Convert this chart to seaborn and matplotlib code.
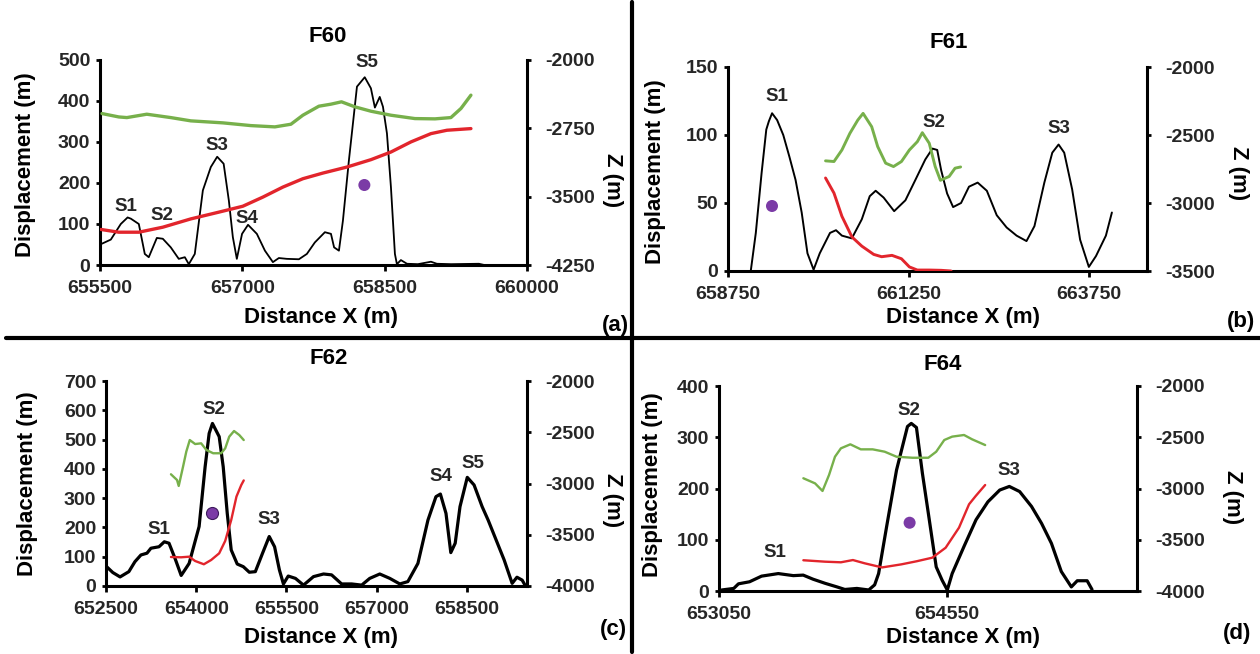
import matplotlib
matplotlib.use("Agg")
import matplotlib.pyplot as plt
from matplotlib.lines import Line2D
import seaborn as sns

# ---------------- F60 (a) ----------------
f60_x = [655500, 655530, 655614, 655719, 655791, 655825, 655909, 655972, 656014, 656099, 656162, 656246,
         656330, 656394, 656436, 656499, 656584, 656668, 656735, 656803, 656858, 656900, 656942,
         656997, 657060, 657153, 657238, 657322, 657385, 657469, 657596, 657680, 657764, 657870,
         657934, 657967, 658018, 658060, 658123, 658208, 658290, 658355, 658397, 658448, 658482,
         658524, 658566, 658608, 658629, 658671, 658735, 658850, 658988, 659050, 659200, 659493, 659550]
f60_disp = [50, 53, 62, 100, 116, 113, 100, 27, 19, 66, 64, 43,
            15, 19, 2, 27, 182, 239, 264, 247, 157, 68, 15,
            76, 98, 76, 35, 7, 17, 15, 14, 27, 55, 80,
            76, 43, 35, 108, 255, 435, 458, 431, 384, 410, 386,
            321, 190, 27, 2, 12, 3, 2, 8, 3, 2, 3, 0]
f60_green_x = [655521, 655698, 655783, 655993, 656246, 656457, 656795, 657090, 657343, 657512, 657638,
               657807, 657933, 658045, 658186, 658355, 658566, 658819, 659030, 659198, 659304, 659409]
f60_green_z = [-2588, -2625, -2632, -2595, -2632, -2668, -2690, -2720, -2734, -2705, -2606,
               -2507, -2485, -2459, -2514, -2562, -2606, -2643, -2646, -2632, -2532, -2386]
f60_red_x = [655510, 655698, 655909, 656162, 656457, 656752, 657005, 657216, 657427, 657638, 657849,
             658102, 658355, 658566, 658777, 658988, 659156, 659409]
f60_red_z = [-3860, -3890, -3890, -3835, -3744, -3670, -3605, -3505, -3395, -3303, -3241,
             -3175, -3094, -3010, -2899, -2808, -2771, -2753]
f60_dot_x, f60_dot_z = [658286], [-3372]
f60_peaks = ["S1", "S2", "S3", "S4", "S5"]
f60_peak_x = [655773, 656157, 656731, 657052, 658314]
f60_peak_y = [142, 120, 291, 114, 494]

# ---------------- F61 (b) ----------------
f61_x = [659065, 659135, 659215, 659280, 659315, 659360, 659430, 659515, 659600, 659685, 659770, 659850,
         659935, 660020, 660162, 660245, 660327, 660464, 660602, 660712, 660794, 660904, 661050,
         661206, 661344, 661481, 661580, 661646, 661701, 661783, 661866, 661976, 662086, 662206,
         662333, 662470, 662607, 662745, 662882, 662992, 663129, 663239, 663326, 663404, 663514,
         663624, 663745, 663844, 663981, 664064]
f61_disp = [0, 28, 72, 104, 110, 116, 111, 100, 84, 67, 43, 13,
            1, 13, 28, 30, 26, 24, 38, 55, 59, 54, 44,
            52, 67, 82, 90, 89, 74, 57, 47, 50, 62, 65,
            59, 41, 32, 26, 22, 33, 65, 87, 93, 87, 60,
            23, 3, 11, 26, 43]
f61_green_x = [660100, 660217, 660327, 660437, 660547, 660620, 660739, 660822, 660932, 661041, 661151,
               661261, 661371, 661440, 661536, 661618, 661690, 661811, 661893, 661970]
f61_green_z = [-2690, -2695, -2610, -2488, -2390, -2341, -2439, -2585, -2707, -2732, -2695,
               -2610, -2549, -2483, -2561, -2732, -2833, -2805, -2744, -2735]
f61_red_x = [660100, 660217, 660327, 660466, 660602, 660767, 660877, 661020, 661151, 661261, 661371,
             661536, 661701, 661838]
f61_red_z = [-2816, -2927, -3098, -3250, -3317, -3378, -3395, -3385, -3410, -3470, -3493,
             -3493, -3495, -3500]
f61_dot_x, f61_dot_z = [659359], [-3022]
f61_peaks = ["S1", "S2", "S3"]
f61_peak_x = [659428, 661597, 663326]
f61_peak_y = [128, 109, 105]

# ---------------- F62 (c) ----------------
f62_x = [652500, 652613, 652734, 652880, 652981, 653081, 653181, 653247, 653381, 653470, 653548,
         653648, 653750, 653882, 654048, 654148, 654215, 654270, 654382, 654449, 654516, 654582,
         654682, 654783, 654883, 654983, 655103, 655214, 655303, 655383, 655450, 655530, 655650,
         655784, 655950, 656117, 656251, 656418, 656585, 656751, 656885, 657052, 657219, 657385,
         657519, 657686, 657853, 657986, 658060, 658153, 658233, 658306, 658386, 658507, 658620,
         658754, 658854, 658987, 659120, 659253, 659333, 659420, 659467]
f62_disp = [68, 46, 31, 49, 83, 106, 112, 129, 134, 151, 146,
            94, 36, 77, 203, 407, 521, 555, 510, 407, 248, 123,
            75, 66, 47, 49, 112, 169, 134, 55, 7, 34, 26,
            3, 32, 41, 38, 7, 7, 3, 26, 41, 26, 7,
            15, 77, 225, 305, 314, 248, 114, 146, 271, 371, 345,
            271, 225, 157, 89, 9, 30, 20, 3]
f62_green_x = [653580, 653681, 653709, 653781, 653835, 653893, 653982, 654082, 654169, 654282, 654415,
               654482, 654549, 654629, 654716, 654790]
f62_green_z = [-2910, -2966, -3024, -2836, -2689, -2576, -2615, -2608, -2673, -2705, -2705,
               -2657, -2543, -2488, -2527, -2576]
f62_red_x = [653580, 653748, 653882, 653982, 654127, 654249, 654382, 654482, 654582, 654669, 654749,
             654790]
f62_red_z = [-3717, -3720, -3714, -3756, -3788, -3746, -3681, -3560, -3356, -3128, -3015,
             -2970]
f62_dot_x, f62_dot_z = [654266], [-3291]
f62_peaks = ["S1", "S2", "S3", "S4", "S5"]
f62_peak_x = [653374, 654294, 655214, 658073, 658600]
f62_peak_y = [194, 603, 228, 373, 419]

# ---------------- F64 (d) ----------------
f64_x = [653068, 653147, 653178, 653251, 653330, 653440, 653539, 653604, 653669, 653748, 653826,
         653878, 653957, 654035, 654074, 654100, 654153, 654218, 654290, 654315, 654349, 654388,
         654427, 654479, 654518, 654552, 654584, 654662, 654741, 654819, 654897, 654960, 655028,
         655106, 655172, 655237, 655302, 655368, 655407, 655472, 655504]
f64_disp = [2, 5, 14, 18, 29, 34, 30, 31, 23, 15, 8,
            3, 5, 2, 12, 34, 126, 236, 321, 327, 319, 230,
            152, 47, 21, 2, 34, 87, 139, 174, 197, 204, 194,
            165, 132, 93, 38, 8, 20, 20, 3]
f64_green_x = [653605, 653682, 653731, 653774, 653813, 653852, 653914, 653983, 654061, 654140, 654218,
               654323, 654427, 654479, 654532, 654584, 654662, 654715, 654801]
f64_green_z = [-2900, -2950, -3024, -2868, -2690, -2608, -2569, -2618, -2618, -2641, -2690,
               -2700, -2700, -2641, -2527, -2494, -2478, -2520, -2576]
f64_red_x = [653605, 653748, 653852, 653931, 654009, 654123, 654250, 654350, 654453, 654541, 654629,
             654695, 654739, 654801]
f64_red_z = [-3700, -3714, -3720, -3698, -3730, -3770, -3740, -3710, -3675, -3578, -3382,
             -3154, -3073, -2966]
f64_dot_x, f64_dot_z = [654304], [-3334]
f64_peaks = ["S1", "S2", "S3"]
f64_peak_x = [653418, 654299, 654960]
f64_peak_y = [75, 353, 236]

GREEN = "#77b04b"
RED = "#e2252c"
PURPLE = "#7b3ba6"

sns.set_theme(style="white")
plt.rcParams["font.family"] = ["Liberation Sans", "DejaVu Sans"]
plt.rcParams["font.weight"] = "bold"

W, H = 1260, 654
fig = plt.figure(figsize=(W / 100, H / 100), dpi=100)


def box(x0, y0, x1, y1):
    # pixel box -> figure fraction rect
    return [x0 / W, 1 - y1 / H, (x1 - x0) / W, (y1 - y0) / H]


def ftext(x, y, s, size, rot=0):
    fig.text(x / W, 1 - y / H, s, ha="center", va="center", fontsize=size,
             fontweight="bold", rotation=rot, color="black")


def panel(rect, x, d, gx, gz, rx, rz, dx, dz, peaks, px, py,
          xlim, xticks, ylim, yticks, zlim, zticks, lw_black, lw_col, dot_edge):
    ax = fig.add_axes(rect)
    ax2 = ax.twinx()
    sns.lineplot(x=x, y=d, ax=ax, color="black", lw=lw_black, estimator=None, sort=False)
    sns.lineplot(x=gx, y=gz, ax=ax2, color=GREEN, lw=lw_col, estimator=None, sort=False)
    sns.lineplot(x=rx, y=rz, ax=ax2, color=RED, lw=lw_col, estimator=None, sort=False)
    sns.scatterplot(x=dx, y=dz, ax=ax2, color=PURPLE, s=75, edgecolor=dot_edge,
                    linewidth=0.8, zorder=5)
    for s, xx, yy in zip(peaks, px, py):
        ax.text(xx, yy, s, ha="center", va="center", fontsize=13.5, fontweight="bold")
    ax.set_xlim(*xlim)
    ax.set_ylim(*ylim)
    ax2.set_ylim(*zlim)
    tick_font = {"fontsize": 14, "fontweight": "bold"}
    ax.set_xticks(xticks)
    ax.set_xticklabels([str(t) for t in xticks], fontdict=tick_font)
    ax.set_yticks(yticks)
    ax.set_yticklabels([str(t) for t in yticks], fontdict=tick_font)
    ax2.set_yticks(zticks)
    ax2.set_yticklabels([str(t) for t in zticks], fontdict=tick_font)
    ax.set_xlabel("")
    ax.set_ylabel("")
    ax2.set_ylabel("")
    for a in (ax, ax2):
        a.grid(False)
        a.set_facecolor("none")
        for sp in a.spines.values():
            sp.set_visible(False)
    ax.spines["left"].set_visible(True)
    ax.spines["bottom"].set_visible(True)
    ax2.spines["right"].set_visible(True)
    for sp in (ax.spines["left"], ax.spines["bottom"], ax2.spines["right"]):
        sp.set_linewidth(2.2)
        sp.set_color("black")
    ax.tick_params(axis="x", direction="out", length=4, width=2, pad=7,
                   bottom=True, color="black")
    ax.tick_params(axis="y", direction="out", length=3, width=2, pad=4,
                   left=True, color="black")
    ax2.tick_params(axis="y", direction="out", length=3, width=2, pad=10,
                    right=True, color="black")
    return ax, ax2


# (a) F60
panel(box(100, 60, 527, 265), f60_x, f60_disp, f60_green_x, f60_green_z, f60_red_x, f60_red_z,
      f60_dot_x, f60_dot_z, f60_peaks, f60_peak_x, f60_peak_y,
      (655500, 660000), [655500, 657000, 658500, 660000], (0, 500), list(range(0, 501, 100)),
      (-4250, -2000), [-4250, -3500, -2750, -2000], 1.3, 2.4, "none")
ftext(328, 37, "F60", 16)
ftext(26, 165, "Displacement (m)", 16, 90)
ftext(321, 318, "Distance X (m)", 16)
ftext(612, 180, "Z (m)", 16, 270)
ftext(615, 325, "(a)", 16)

# (b) F61
panel(box(728, 67, 1147, 271), f61_x, f61_disp, f61_green_x, f61_green_z, f61_red_x, f61_red_z,
      f61_dot_x, f61_dot_z, f61_peaks, f61_peak_x, f61_peak_y,
      (658750, 664550), [658750, 661250, 663750], (0, 150), [0, 50, 100, 150],
      (-3500, -2000), [-3500, -3000, -2500, -2000], 1.4, 2.1, "none")
ftext(949, 43, "F61", 16)
ftext(656, 172, "Displacement (m)", 16, 90)
ftext(963, 317, "Distance X (m)", 16)
ftext(1238, 173, "Z (m)", 16, 270)
ftext(1241, 322, "(b)", 16)

# (c) F62
panel(box(106, 381, 527, 586), f62_x, f62_disp, f62_green_x, f62_green_z, f62_red_x, f62_red_z,
      f62_dot_x, f62_dot_z, f62_peaks, f62_peak_x, f62_peak_y,
      (652500, 659500), [652500, 654000, 655500, 657000, 658500], (0, 700), list(range(0, 701, 100)),
      (-4000, -2000), [-4000, -3500, -3000, -2500, -2000], 2.3, 1.7, "#3d1a5c")
ftext(329, 359, "F62", 16)
ftext(28, 484, "Displacement (m)", 16, 90)
ftext(321, 637, "Distance X (m)", 16)
ftext(613, 500, "Z (m)", 16, 270)
ftext(613, 630, "(c)", 16)

# (d) F64
panel(box(719, 386, 1137, 591), f64_x, f64_disp, f64_green_x, f64_green_z, f64_red_x, f64_red_z,
      f64_dot_x, f64_dot_z, f64_peaks, f64_peak_x, f64_peak_y,
      (653050, 655800), [653050, 654550], (0, 400), [0, 100, 200, 300, 400],
      (-4000, -2000), [-4000, -3500, -3000, -2500, -2000], 2.3, 1.7, "none")
ftext(943, 364, "F64", 16)
ftext(652, 485, "Displacement (m)", 16, 90)
ftext(963, 637, "Distance X (m)", 16)
ftext(1233, 497, "Z (m)", 16, 270)
ftext(1237, 633, "(d)", 16)

# quadrant dividers
fig.add_artist(Line2D([6 / W, 1.0], [1 - 338 / H, 1 - 338 / H], transform=fig.transFigure,
                      color="black", lw=3))
fig.add_artist(Line2D([632 / W, 632 / W], [1 - 2 / H, 1 - 652 / H], transform=fig.transFigure,
                      color="black", lw=3))

fig.savefig("out.png", dpi=100, facecolor="white")
